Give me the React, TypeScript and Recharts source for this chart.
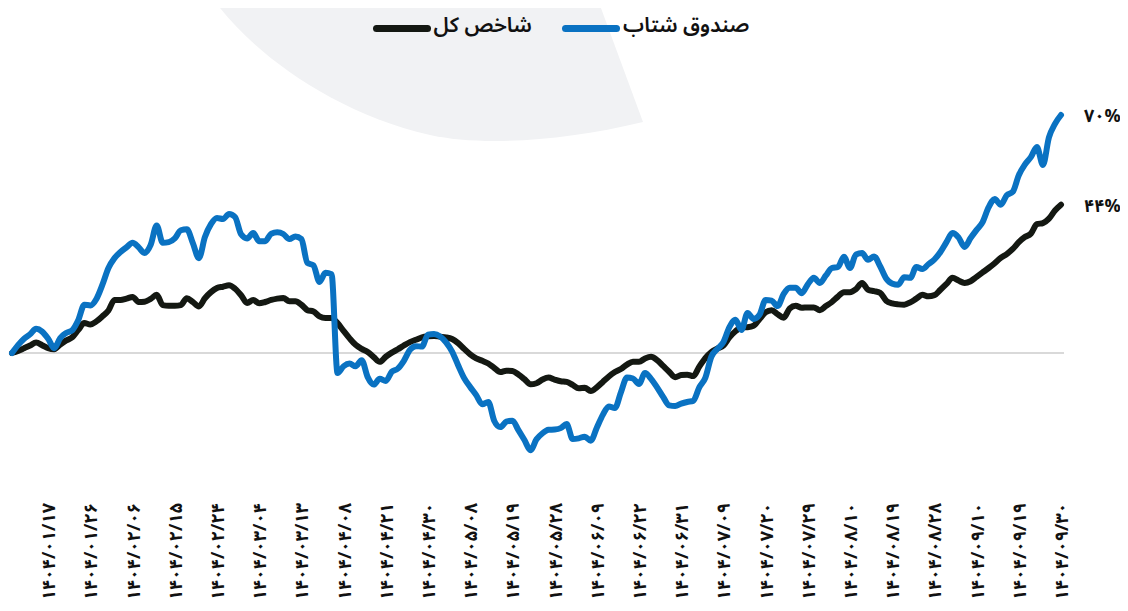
import React from "react";
import { LineChart, Line, XAxis, YAxis, ReferenceLine, LabelList } from "recharts";

const xLabels = [
  "۱۴۰۴/۰۱/۱۷", "۱۴۰۴/۰۱/۲۶", "۱۴۰۴/۰۲/۰۶", "۱۴۰۴/۰۲/۱۵", "۱۴۰۴/۰۲/۲۴",
  "۱۴۰۴/۰۳/۰۴", "۱۴۰۴/۰۳/۱۳", "۱۴۰۴/۰۴/۰۸", "۱۴۰۴/۰۴/۲۱", "۱۴۰۴/۰۴/۳۰",
  "۱۴۰۴/۰۵/۰۸", "۱۴۰۴/۰۵/۱۹", "۱۴۰۴/۰۵/۲۸", "۱۴۰۴/۰۶/۰۹", "۱۴۰۴/۰۶/۲۲",
  "۱۴۰۴/۰۶/۳۱", "۱۴۰۴/۰۷/۰۹", "۱۴۰۴/۰۷/۲۰", "۱۴۰۴/۰۷/۲۹", "۱۴۰۴/۰۸/۱۰",
  "۱۴۰۴/۰۸/۱۹", "۱۴۰۴/۰۸/۲۸", "۱۴۰۴/۰۹/۱۰", "۱۴۰۴/۰۹/۱۹", "۱۴۰۴/۰۹/۳۰",
];
// data index of the first labelled day and the number of trading days between labels
const firstLabelIndex = 6;
const labelStep = 7;

const fundValues = [
  0, 2.3, 4.2, 5.5, 7.1, 6.3, 4.2, 1.4, 4.4, 5.9,
  6.7, 9.7, 14.2, 14.0, 15.9, 20.1, 25.0, 27.9, 29.7, 31.1,
  32.4, 31.1, 29.4, 31.8, 37.5, 32.4, 32.6, 33.7, 36.1, 36.4,
  32.3, 27.9, 34.1, 37.9, 39.7, 39.4, 40.9, 40.0, 34.9, 33.7,
  35.3, 32.9, 32.9, 35.1, 35.5, 35.0, 33.5, 34.3, 33.5, 26.5,
  25.8, 20.9, 23.6, 23.2, -5.9, -3.9, -3.1, -3.9, -2.1, -7.1,
  -9.3, -7.6, -8.2, -5.5, -4.6, -2.3, 0.9, 2.0, 1.9, 5.4,
  5.6, 4.9, 3.1, 0.4, -3.6, -7.4, -10.0, -12.4, -15.1, -14.4,
  -20.0, -21.8, -20.2, -19.9, -22.7, -25.6, -28.6, -25.4, -23.6, -22.6,
  -22.5, -22.1, -20.9, -25.3, -25.1, -24.6, -25.8, -22.0, -18.2, -15.7,
  -16.2, -11.6, -7.2, -7.5, -9.1, -5.9, -7.6, -10.1, -12.9, -15.4,
  -15.6, -14.9, -14.4, -14.1, -10.1, -7.3, -1.1, 1.2, 3.2, 7.6,
  9.8, 6.8, 11.8, 10.0, 11.3, 15.6, 15.4, 13.8, 17.4, 19.2,
  19.2, 17.6, 20.2, 22.1, 20.6, 22.8, 25.0, 25.3, 28.3, 25.0,
  29.0, 29.4, 27.4, 28.4, 25.5, 21.9, 20.4, 20.1, 22.3, 22.1,
  25.3, 24.7, 26.1, 27.5, 29.7, 32.6, 35.3, 34.0, 31.2, 33.8,
  36.2, 38.5, 42.9, 45.3, 43.6, 46.4, 47.4, 52.3, 55.4, 57.6,
  60.6, 55.3, 63.4, 67.4, 70.0,
];

const indexValues = [
  0, 0.6, 1.4, 2.2, 3.1, 2.3, 1.4, 1.1, 2.5, 3.7,
  4.6, 6.8, 8.8, 8.4, 9.3, 10.8, 12.5, 15.6, 15.6, 16.0,
  16.5, 15.0, 15.1, 15.9, 17.1, 14.1, 13.9, 13.9, 14.1, 16.1,
  15.0, 13.7, 16.1, 17.9, 19.1, 19.5, 19.9, 18.9, 17.0, 14.7,
  15.6, 14.6, 15.0, 15.6, 16.0, 16.2, 15.2, 15.2, 14.2, 12.6,
  12.2, 10.8, 10.3, 10.3, 8.8, 6.5, 4.3, 2.4, 1.2, 0.3,
  -1.2, -2.6, -1.1, 0.1, 1.1, 2.2, 3.2, 3.9, 4.6, 4.9,
  5.0, 4.8, 4.6, 4.1, 2.9, 1.2, -0.4, -1.6, -2.3, -3.1,
  -4.4, -5.6, -5.2, -5.3, -6.3, -7.7, -9.2, -8.9, -7.8, -7.2,
  -7.8, -8.3, -8.5, -9.4, -10.4, -10.2, -11.2, -10.1, -8.5, -6.9,
  -5.6, -4.7, -3.4, -2.6, -2.6, -1.6, -1.1, -2.1, -3.8, -5.5,
  -7.1, -6.5, -6.4, -6.8, -4.0, -1.5, 0.3, 1.3, 2.2, 4.6,
  6.4, 7.5, 7.6, 8.0, 10.0, 12.0, 12.6, 11.4, 10.4, 13.1,
  13.9, 13.3, 13.4, 13.4, 12.6, 13.8, 15.0, 16.6, 17.9, 17.9,
  18.8, 20.6, 18.6, 18.2, 17.7, 15.4, 14.6, 14.3, 14.2, 14.9,
  16.0, 17.1, 16.7, 17.0, 18.6, 20.3, 22.1, 21.3, 20.6, 21.1,
  22.4, 23.7, 25.0, 26.4, 28.0, 29.1, 30.6, 32.6, 34.1, 35.1,
  37.9, 38.2, 39.5, 41.9, 43.6,
];

const seriesNames = { fund: "صندوق شتاب", index: "شاخص کل" };
const BLUE = "#0a72c2";
const BLACK = "#141812";
const FONT = "'Noto Sans Arabic', 'DejaVu Sans', sans-serif";

const data = fundValues.map((v, i) => ({ i, fund: v, index: indexValues[i] }));
const lastIndex = data.length - 1;
const tickIdx = xLabels.map((_, k) => firstLabelIndex + labelStep * k);
const tickText: Record<number, string> = {};
tickIdx.forEach((t, k) => (tickText[t] = xLabels[k]));

const faDigits = "۰۱۲۳۴۵۶۷۸۹";
const toFa = (s: string) => s.replace(/[0-9]/g, (d) => faDigits[Number(d)]);

const RotTick = (props: any) => {
  const { x, y, payload } = props;
  return (
    <text
      transform={`translate(${x + 7},${y + 14}) rotate(-90)`}
      textAnchor="end"
      fontFamily={FONT}
      fontWeight="bold"
      fontSize={18}
      fill="#111"
    >
      {tickText[payload.value]}
    </text>
  );
};

const endLabel = (props: any) => {
  const { x, y, index, value } = props;
  if (index !== lastIndex) return null;
  return (
    <text x={x + 23} y={y + 7} fontFamily={FONT} fontWeight="bold" fontSize={18} fill="#111">
      {toFa(String(Math.round(value)))}%
    </text>
  );
};

const LegendItem = ({ color, text }: { color: string; text: string }) => (
  <div style={{ display: "flex", alignItems: "center", direction: "rtl" }}>
    <span style={{ fontFamily: FONT, fontWeight: 600, fontSize: 21, color: "#111", lineHeight: "30px" }}>{text}</span>
    <span style={{ display: "inline-block", width: 58, height: 7, borderRadius: 4, background: color, marginRight: 3, marginTop: 6 }} />
  </div>
);

export default function App() {
  return (
    <div style={{ position: "relative", width: 1128, height: 611, margin: -8, background: "#fff", overflow: "hidden" }}>
      <svg width={1128} height={611} style={{ position: "absolute", left: 0, top: 0 }}>
        <path d="M214,0 C250,50 330,112 430,135 C480,146 560,142 643,122 L598,0 Z" fill="#f1f2f4" />
      </svg>
      <div
        style={{
          position: "absolute",
          left: 0,
          top: 10,
          width: 1122,
          display: "flex",
          justifyContent: "center",
          direction: "rtl",
          gap: 30,
        }}
      >
        <LegendItem color={BLUE} text={seriesNames.fund} />
        <LegendItem color={BLACK} text={seriesNames.index} />
      </div>
      <div style={{ position: "absolute", left: 0, top: 0 }}>
        <LineChart width={1128} height={611} data={data} margin={{ top: 81, right: 64, left: 10, bottom: 0 }}>
          <XAxis
            dataKey="i"
            type="number"
            domain={[0, lastIndex]}
            ticks={tickIdx}
            interval={0}
            padding={{ left: 2, right: 3 }}
            axisLine={false}
            tickLine={false}
            tickSize={0}
            tickMargin={0}
            height={122}
            tick={<RotTick />}
          />
          <YAxis hide domain={[-40, 80]} type="number" />
          <ReferenceLine y={0} stroke="#d9d9d9" strokeWidth={2} />
          <Line
            dataKey="index"
            type="monotone"
            stroke={BLACK}
            strokeWidth={6}
            dot={false}
            strokeLinecap="round"
            strokeLinejoin="round"
            isAnimationActive={false}
          >
            <LabelList dataKey="index" content={endLabel} />
          </Line>
          <Line
            dataKey="fund"
            type="monotone"
            stroke={BLUE}
            strokeWidth={6}
            dot={false}
            strokeLinecap="round"
            strokeLinejoin="round"
            isAnimationActive={false}
          >
            <LabelList dataKey="fund" content={endLabel} />
          </Line>
        </LineChart>
      </div>
    </div>
  );
}
